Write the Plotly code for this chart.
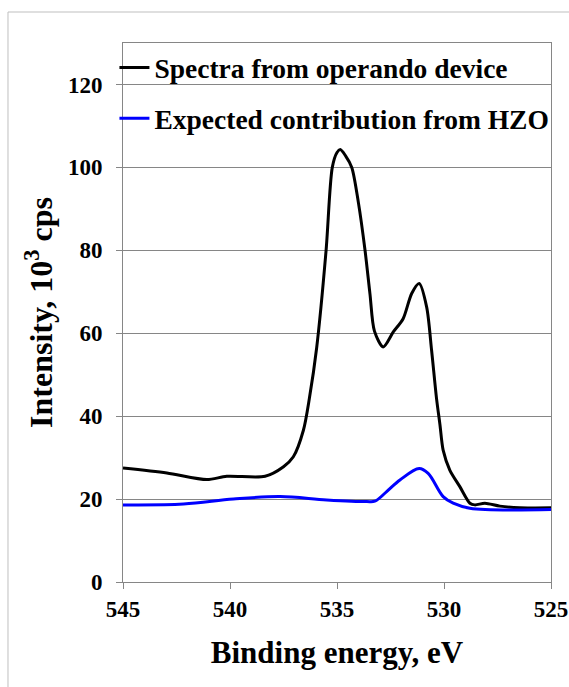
import plotly.graph_objects as go

# Black curve: spectra from operando device (binding energy eV, intensity 10^3 cps)
spectra_energy = [545.0, 542.95, 541.08, 540.15, 538.36, 537.5, 537.04, 536.57, 536.29,
                  535.95, 535.51, 535.22, 535.0, 534.85, 534.6, 534.31, 534.0, 533.69, 533.46,
                  533.25, 532.84, 532.37, 531.91, 531.51, 531.16, 530.81, 530.58, 530.35,
                  530.19, 530.04, 529.73, 529.26, 528.79, 528.56, 528.09, 527.39, 526.46, 525.0]
spectra_intensity = [27.5, 26.3, 24.7, 25.5, 25.5, 27.8, 30.2, 36.6, 44.3,
                     56.5, 80.0, 100.0, 103.6, 104.3, 102.8, 100.0, 91.5, 80.0, 69.5,
                     60.5, 56.7, 60.3, 63.5, 69.6, 72.0, 66.3, 55.9, 44.3,
                     38.0, 31.8, 27.0, 23.0, 19.0, 18.6, 19.0, 18.3, 17.9, 17.9]

# Blue curve: expected contribution from HZO
hzo_energy = [545.0, 542.17, 539.84, 537.66, 535.48, 533.61, 533.23, 532.68, 532.06,
              531.16, 530.74, 530.04, 529.57, 528.79, 525.0]
hzo_intensity = [18.6, 18.8, 20.0, 20.6, 19.8, 19.4, 19.5, 21.8, 24.6,
                 27.4, 26.2, 20.6, 19.0, 17.8, 17.5]

x_ticks = [545, 540, 535, 530, 525]
y_ticks = [0, 20, 40, 60, 80, 100, 120]

FONT = "Liberation Serif"
GRAY = "#868686"

fig = go.Figure()
fig.add_trace(go.Scatter(
    x=spectra_energy, y=spectra_intensity, mode="lines",
    name="<b>Spectra from operando device</b>", legendgroup="a",
    line=dict(color="black", width=3, shape="spline", smoothing=0.8),
))
fig.add_trace(go.Scatter(
    x=hzo_energy, y=hzo_intensity, mode="lines",
    name="<b>Expected contribution from HZO</b>", legendgroup="b",
    line=dict(color="#0000ff", width=3, shape="spline", smoothing=1.0),
))

fig.update_layout(
    width=569, height=687,
    margin=dict(l=123, r=18, t=43, b=105, autoexpand=False),
    paper_bgcolor="white", plot_bgcolor="white",
    font=dict(family=FONT, color="black"),
    showlegend=True,
    legend=dict(
        x=-0.02, y=1.0, xanchor="left", yanchor="top",
        bgcolor="rgba(0,0,0,0)", borderwidth=0,
        font=dict(family=FONT, size=27.5, color="black"),
        tracegroupgap=12, itemwidth=30,
    ),
    xaxis=dict(
        range=[545, 525], tickvals=x_ticks,
        ticktext=[f"<b>{v}</b>" for v in x_ticks],
        tickfont=dict(family=FONT, size=23, color="black"),
        showgrid=False, zeroline=False, automargin=False,
        showline=True, linecolor=GRAY, linewidth=1, mirror=True,
        ticks="outside", ticklen=6, tickcolor=GRAY,
        title=dict(text="<b>Binding energy, eV</b>",
                   font=dict(family=FONT, size=31, color="black"), standoff=20),
    ),
    yaxis=dict(
        range=[0, 130], tickvals=y_ticks,
        ticktext=[f"<b>{v}</b>" for v in y_ticks],
        tickfont=dict(family=FONT, size=23, color="black"),
        showgrid=True, gridcolor=GRAY, gridwidth=1, zeroline=False, automargin=False,
        showline=True, linecolor=GRAY, linewidth=1, mirror=True,
        ticks="outside", ticklen=6, tickcolor=GRAY, ticklabelstandoff=9,
        title=dict(text="<b>Intensity, 10<sup>3</sup> cps</b>",
                   font=dict(family=FONT, size=32, color="black"), standoff=5),
    ),
    shapes=[dict(type="rect", xref="paper", yref="paper",
                 x0=-0.2687, x1=1.1, y0=-0.25, y1=1.0575,
                 line=dict(color="#bfbfbf", width=1), fillcolor="rgba(0,0,0,0)",
                 layer="below")],
)

fig.write_html("out.html")
